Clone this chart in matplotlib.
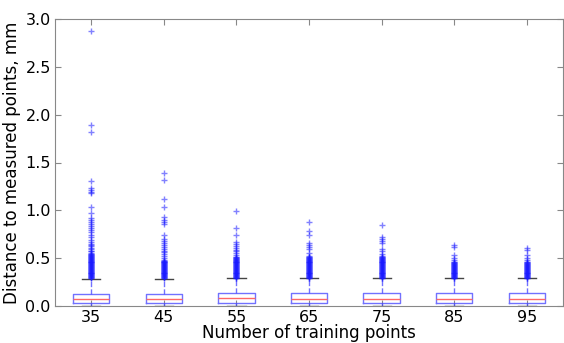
import numpy as np
import matplotlib
matplotlib.use("Agg")
import matplotlib.pyplot as plt

# number of training points per group
labels = ["35", "45", "55", "65", "75", "85", "95"]

# box statistics (mm)
q1 = [0.035, 0.035, 0.035, 0.035, 0.035, 0.035, 0.035]
med = [0.075, 0.078, 0.080, 0.078, 0.078, 0.078, 0.078]
q3 = [0.130, 0.130, 0.140, 0.135, 0.135, 0.135, 0.135]
whis_lo = [0.0, 0.0, 0.0, 0.0, 0.0, 0.0, 0.0]
whis_hi = [0.28, 0.285, 0.29, 0.29, 0.29, 0.29, 0.29]

# the solid band of outliers just above the whisker cap
dense_levels = [0.290, 0.295, 0.300, 0.305, 0.310, 0.315, 0.320, 0.325,
                0.330, 0.335, 0.340, 0.345, 0.350, 0.355, 0.360, 0.365,
                0.370, 0.375, 0.380, 0.385, 0.390, 0.395, 0.400, 0.405,
                0.410, 0.415, 0.420, 0.425, 0.430, 0.435, 0.440, 0.445,
                0.450, 0.455, 0.460, 0.465, 0.470, 0.475, 0.480, 0.485,
                0.490, 0.495, 0.500, 0.505, 0.510, 0.515, 0.520, 0.525,
                0.530, 0.535, 0.540, 0.545, 0.550]
dense_top = [0.55, 0.48, 0.515, 0.52, 0.52, 0.46, 0.46]

# scattered outliers above the band
sparse = [
    [0.57, 0.58, 0.60, 0.61, 0.63, 0.64, 0.65, 0.67, 0.69, 0.72, 0.74, 0.77,
     0.79, 0.82, 0.84, 0.86, 0.88, 0.90, 0.92, 0.97, 1.03, 1.18, 1.19, 1.21,
     1.23, 1.31, 1.82, 1.89, 2.87],
    [0.50, 0.52, 0.54, 0.56, 0.58, 0.60, 0.62, 0.64, 0.66, 0.68, 0.70, 0.74,
     0.86, 0.88, 0.90, 0.93, 1.04, 1.115, 1.32, 1.39],
    [0.53, 0.55, 0.57, 0.59, 0.61, 0.63, 0.65, 0.67, 0.74, 0.82, 0.99],
    [0.55, 0.60, 0.62, 0.64, 0.66, 0.74, 0.78, 0.88],
    [0.54, 0.57, 0.60, 0.66, 0.68, 0.70, 0.72, 0.85],
    [0.48, 0.50, 0.53, 0.62, 0.64],
    [0.48, 0.50, 0.53, 0.585, 0.61],
]

stats = []
for i, lab in enumerate(labels):
    fl = [v for v in dense_levels if v <= dense_top[i]] + sparse[i]
    stats.append(dict(label=lab, q1=q1[i], med=med[i], q3=q3[i],
                      whislo=whis_lo[i], whishi=whis_hi[i], fliers=fl))

plt.rcParams['font.family'] = 'DejaVu Sans'
fig = plt.figure(figsize=(5.64, 3.43), dpi=100)
ax = fig.add_axes([55/564, 37/343, 508/564, 287/343])

blue = (0.3, 0.3, 1.0, 0.8)
ax.bxp(stats, widths=0.5,
       boxprops=dict(color=blue, linewidth=1),
       medianprops=dict(color=(1.0, 0.4, 0.4), linewidth=1),
       whiskerprops=dict(color=blue, linestyle='--', linewidth=1),
       capprops=dict(color='#444444', linewidth=1),
       flierprops=dict(marker='+', markeredgecolor=(0.1, 0.1, 1.0, 0.55),
                       markersize=5, linestyle='none'))

ax.set_ylim(0, 3.0)
ax.set_xlim(0.5, 7.5)
ax.set_yticks([0.0, 0.5, 1.0, 1.5, 2.0, 2.5, 3.0])
ax.tick_params(direction='in', top=True, right=True, labelsize=11.5,
               color='#888888', length=4, pad=3)
for s in ax.spines.values():
    s.set_color('#888888')
ax.set_xlabel("Number of training points", fontsize=12, labelpad=-1)
ax.set_ylabel("Distance to measured points, mm", fontsize=12, labelpad=3)

fig.savefig("out.png", dpi=100)
